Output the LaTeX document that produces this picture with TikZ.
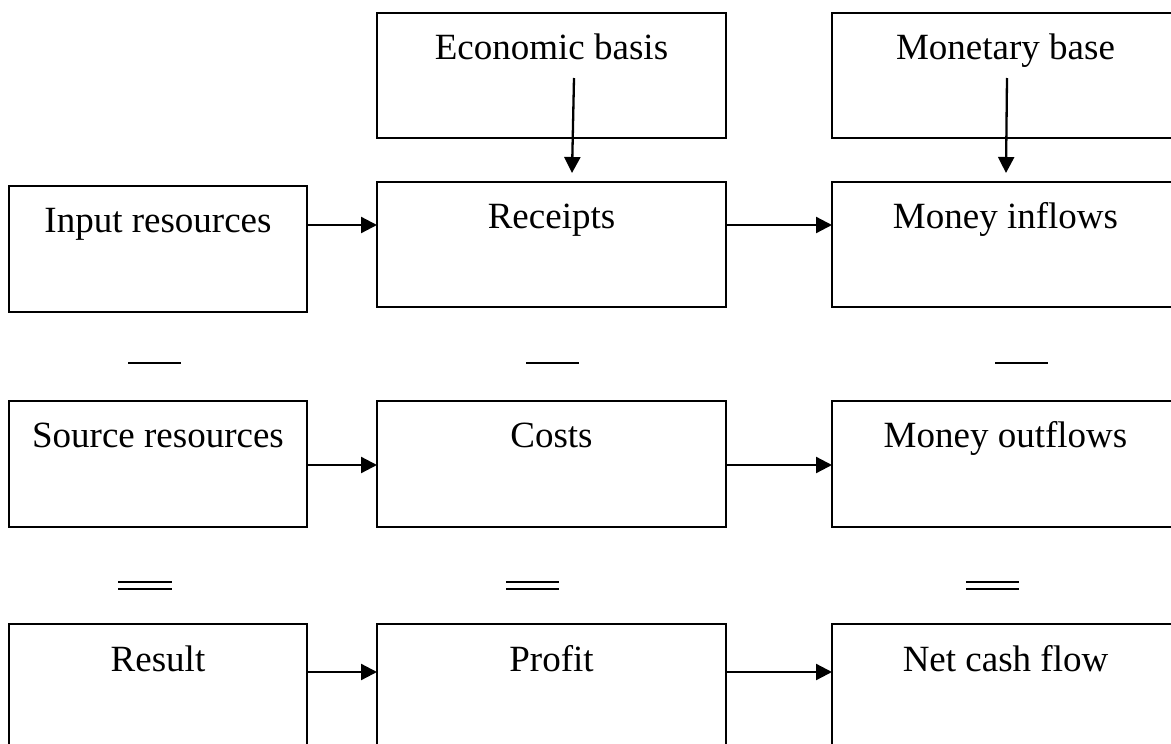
\documentclass[tikz,border=0pt]{standalone}
\usepackage{fontspec}
\setmainfont{Liberation Serif}
\usetikzlibrary{arrows.meta}
\tikzset{
  box/.style={draw, line width=2.4pt, inner sep=0pt, outer sep=0pt, minimum height=125pt},
  widebox/.style={box, minimum width=349pt},
  leftbox/.style={box, minimum width=298pt, minimum height=126pt},
  rightbox/.style={box, minimum width=347pt},
  txt/.style={anchor=base, inner sep=0pt, font=\fontsize{37}{44}\selectfont},
  arr/.style={line width=2.3pt, -{Triangle[length=16pt,width=16pt]}},
  sign/.style={line width=2.8pt}
}
\begin{document}
\begin{tikzpicture}[x=1pt,y=-1pt]
\useasboundingbox (0,0) rectangle (1171,744);
\clip (0,0) rectangle (1171,744);
% boxes
\node[widebox]  (eco) at (551.5,75.5) {};
\node[rightbox] (mon) at (1005.5,75.5) {};
\node[leftbox]  (inp) at (158,249) {};
\node[widebox]  (rec) at (551.5,244.5) {};
\node[rightbox] (inf) at (1005.5,244.5) {};
\node[leftbox]  (src) at (158,464) {};
\node[widebox, minimum height=126pt]  (cos) at (551.5,464) {};
\node[rightbox, minimum height=126pt] (out) at (1005.5,464) {};
\node[leftbox]  (res) at (158,687) {};
\node[widebox, minimum height=126pt]  (pro) at (551.5,687) {};
\node[rightbox, minimum height=126pt] (net) at (1005.5,687) {};
% texts
\node[txt] (ecoT) at ([yshift=-46pt]eco.north) {Economic basis};
\node[txt] (monT) at ([yshift=-46pt]mon.north) {Monetary base};
\node[txt] (inpT) at ([yshift=-46pt]inp.north) {Input resources};
\node[txt] (recT) at ([yshift=-46pt]rec.north) {Receipts};
\node[txt] (infT) at ([yshift=-46pt]inf.north) {Money inflows};
\node[txt] (srcT) at ([yshift=-46pt]src.north) {Source resources};
\node[txt] (cosT) at ([yshift=-46pt]cos.north) {Costs};
\node[txt] (outT) at ([yshift=-46pt]out.north) {Money outflows};
\node[txt] (resT) at ([yshift=-47pt]res.north) {Result};
\node[txt] (proT) at ([yshift=-47pt]pro.north) {Profit};
\node[txt] (netT) at ([yshift=-47pt]net.north) {Net cash flow};
% vertical arrows
\draw[arr] ([xshift=22.5pt,yshift=-2.5pt]eco.center) -- ([xshift=20.5pt,yshift=9pt]rec.north);
\draw[arr] ([xshift=1.5pt,yshift=-2.5pt]mon.center) -- ([xshift=0.5pt,yshift=9pt]inf.north);
% horizontal arrows
\draw[arr] ([yshift=24pt]inp.east) -- ([yshift=19.5pt]rec.west);
\draw[arr] ([yshift=19.5pt]rec.east) -- ([yshift=19.5pt]inf.west);
\draw[arr] ([yshift=-1pt]src.east) -- ([yshift=-1pt]cos.west);
\draw[arr] ([yshift=-1pt]cos.east) -- ([yshift=-1pt]out.west);
\draw[arr] ([yshift=15pt]res.east) -- ([yshift=15pt]pro.west);
\draw[arr] ([yshift=15pt]pro.east) -- ([yshift=15pt]net.west);
% minus signs
\draw[sign] (128,363) -- (181,363);
\draw[sign] (526,363) -- (579,363);
\draw[sign] (995,363) -- (1048,363);
% equals signs
\draw[sign] (118,582) -- (172,582);
\draw[sign] (118,589) -- (172,589);
\draw[sign] (506,582) -- (559,582);
\draw[sign] (506,589) -- (559,589);
\draw[sign] (966,582) -- (1019,582);
\draw[sign] (966,589) -- (1019,589);
\end{tikzpicture}
\end{document}
